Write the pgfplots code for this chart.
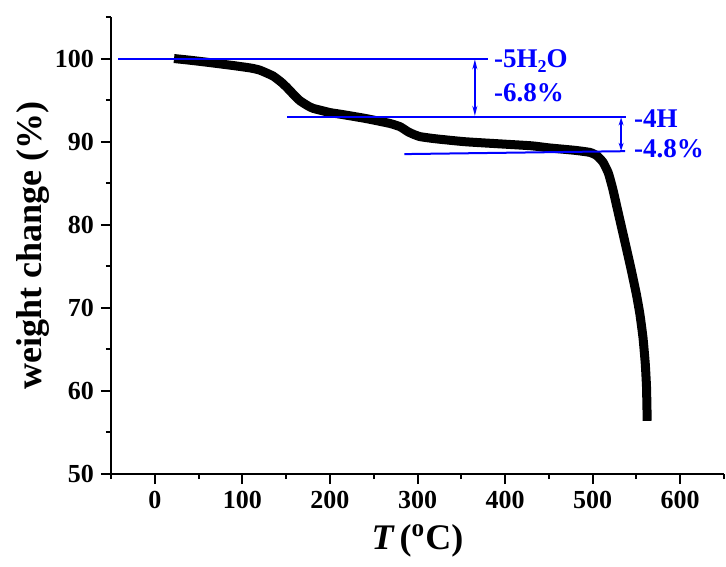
\documentclass[border=0pt]{standalone}
\usepackage{fontspec}
\setmainfont{Liberation Serif}
\usepackage{pgfplots}
\pgfplotsset{compat=1.18}
\usetikzlibrary{arrows.meta}
\begin{document}
\begin{tikzpicture}
\begin{axis}[
  at={(0,0)}, anchor=south west,
  scale only axis, width=306.5pt, height=228.5pt,
  xmin=-50, xmax=650, ymin=50, ymax=105,
  axis x line*=bottom, axis y line*=left,
  axis line style={-, line width=1pt},
  xtick={0,100,...,600}, minor xtick={-50,50,...,650},
  ytick={50,60,...,100}, minor ytick={55,65,...,105},
  tick align=outside, major tick length=5pt, minor tick length=2.5pt,
  every tick/.style={line width=1pt, black},
  ticklabel style={font=\fontsize{13}{13}\selectfont\bfseries},
  /pgf/number format/assume math mode=true,
  xlabel={{\itshape T}\,(\textsuperscript{o}C)},
  ylabel={weight change (\%)},
  label style={font=\fontsize{18}{18}\selectfont\bfseries},
  ylabel style={yshift=-4pt},
  xlabel style={yshift=-1pt},
  clip=false,
]
\addplot[black, line width=4.5pt, smooth, tension=0.3] coordinates {
(22,100.0) (40,99.8) (60,99.55) (90,99.15) (110,98.85) (120,98.6)
(135,97.9) (145,97.1) (151,96.5) (160,95.5) (166,94.9) (175,94.3)
(181,94.0) (200,93.5) (212,93.3) (240,92.8) (268,92.2) (280,91.8)
(289,91.2) (295,90.9) (303,90.6) (320,90.35) (353,90.0) (383,89.8)
(430,89.5) (450,89.25) (480,88.95) (497,88.7) (505,88.3) (512,87.5)
(518,86.2) (523,84.3) (528,82.0) (533,79.7) (538,77.4) (544,74.6)
(550,71.6) (554,69.2) (557.5,66.4) (560,63.4) (561.5,60.5) (562.3,56.4)
};
\addplot[blue, line width=1pt] coordinates {(-42,100) (381,100)};
\addplot[blue, line width=1pt] coordinates {(151,93) (538,93)};
\addplot[blue, line width=1pt] coordinates {(285,88.5) (537,88.85)};
\addplot[blue, line width=0.7pt, {Stealth[length=5pt,width=2.5pt]}-{Stealth[length=5pt,width=2.5pt]}] coordinates {(365.5,99.9) (365.5,93.1)};
\addplot[blue, line width=0.7pt, {Stealth[length=4pt,width=2.5pt]}-{Stealth[length=4pt,width=2.5pt]}] coordinates {(532.5,92.9) (532.5,88.9)};
\node[anchor=west, text=blue, inner sep=0pt, font=\fontsize{13.5}{13.5}\selectfont\bfseries] at (axis cs:387,99.7) {-5H\raisebox{-0.45ex}{\fontsize{9}{9}\selectfont 2}O};
\node[anchor=west, text=blue, inner sep=0pt, font=\fontsize{13.5}{13.5}\selectfont\bfseries] at (axis cs:387,95.9) {-6.8\%};
\node[anchor=west, text=blue, inner sep=0pt, font=\fontsize{13.5}{13.5}\selectfont\bfseries] at (axis cs:547,92.8) {-4H};
\node[anchor=west, text=blue, inner sep=0pt, font=\fontsize{13.5}{13.5}\selectfont\bfseries] at (axis cs:547,89.2) {-4.8\%};
\end{axis}
\pgfresetboundingbox
\path[use as bounding box] (-55.5pt,-46pt) rectangle (307.5pt,237pt);
\end{tikzpicture}
\end{document}
